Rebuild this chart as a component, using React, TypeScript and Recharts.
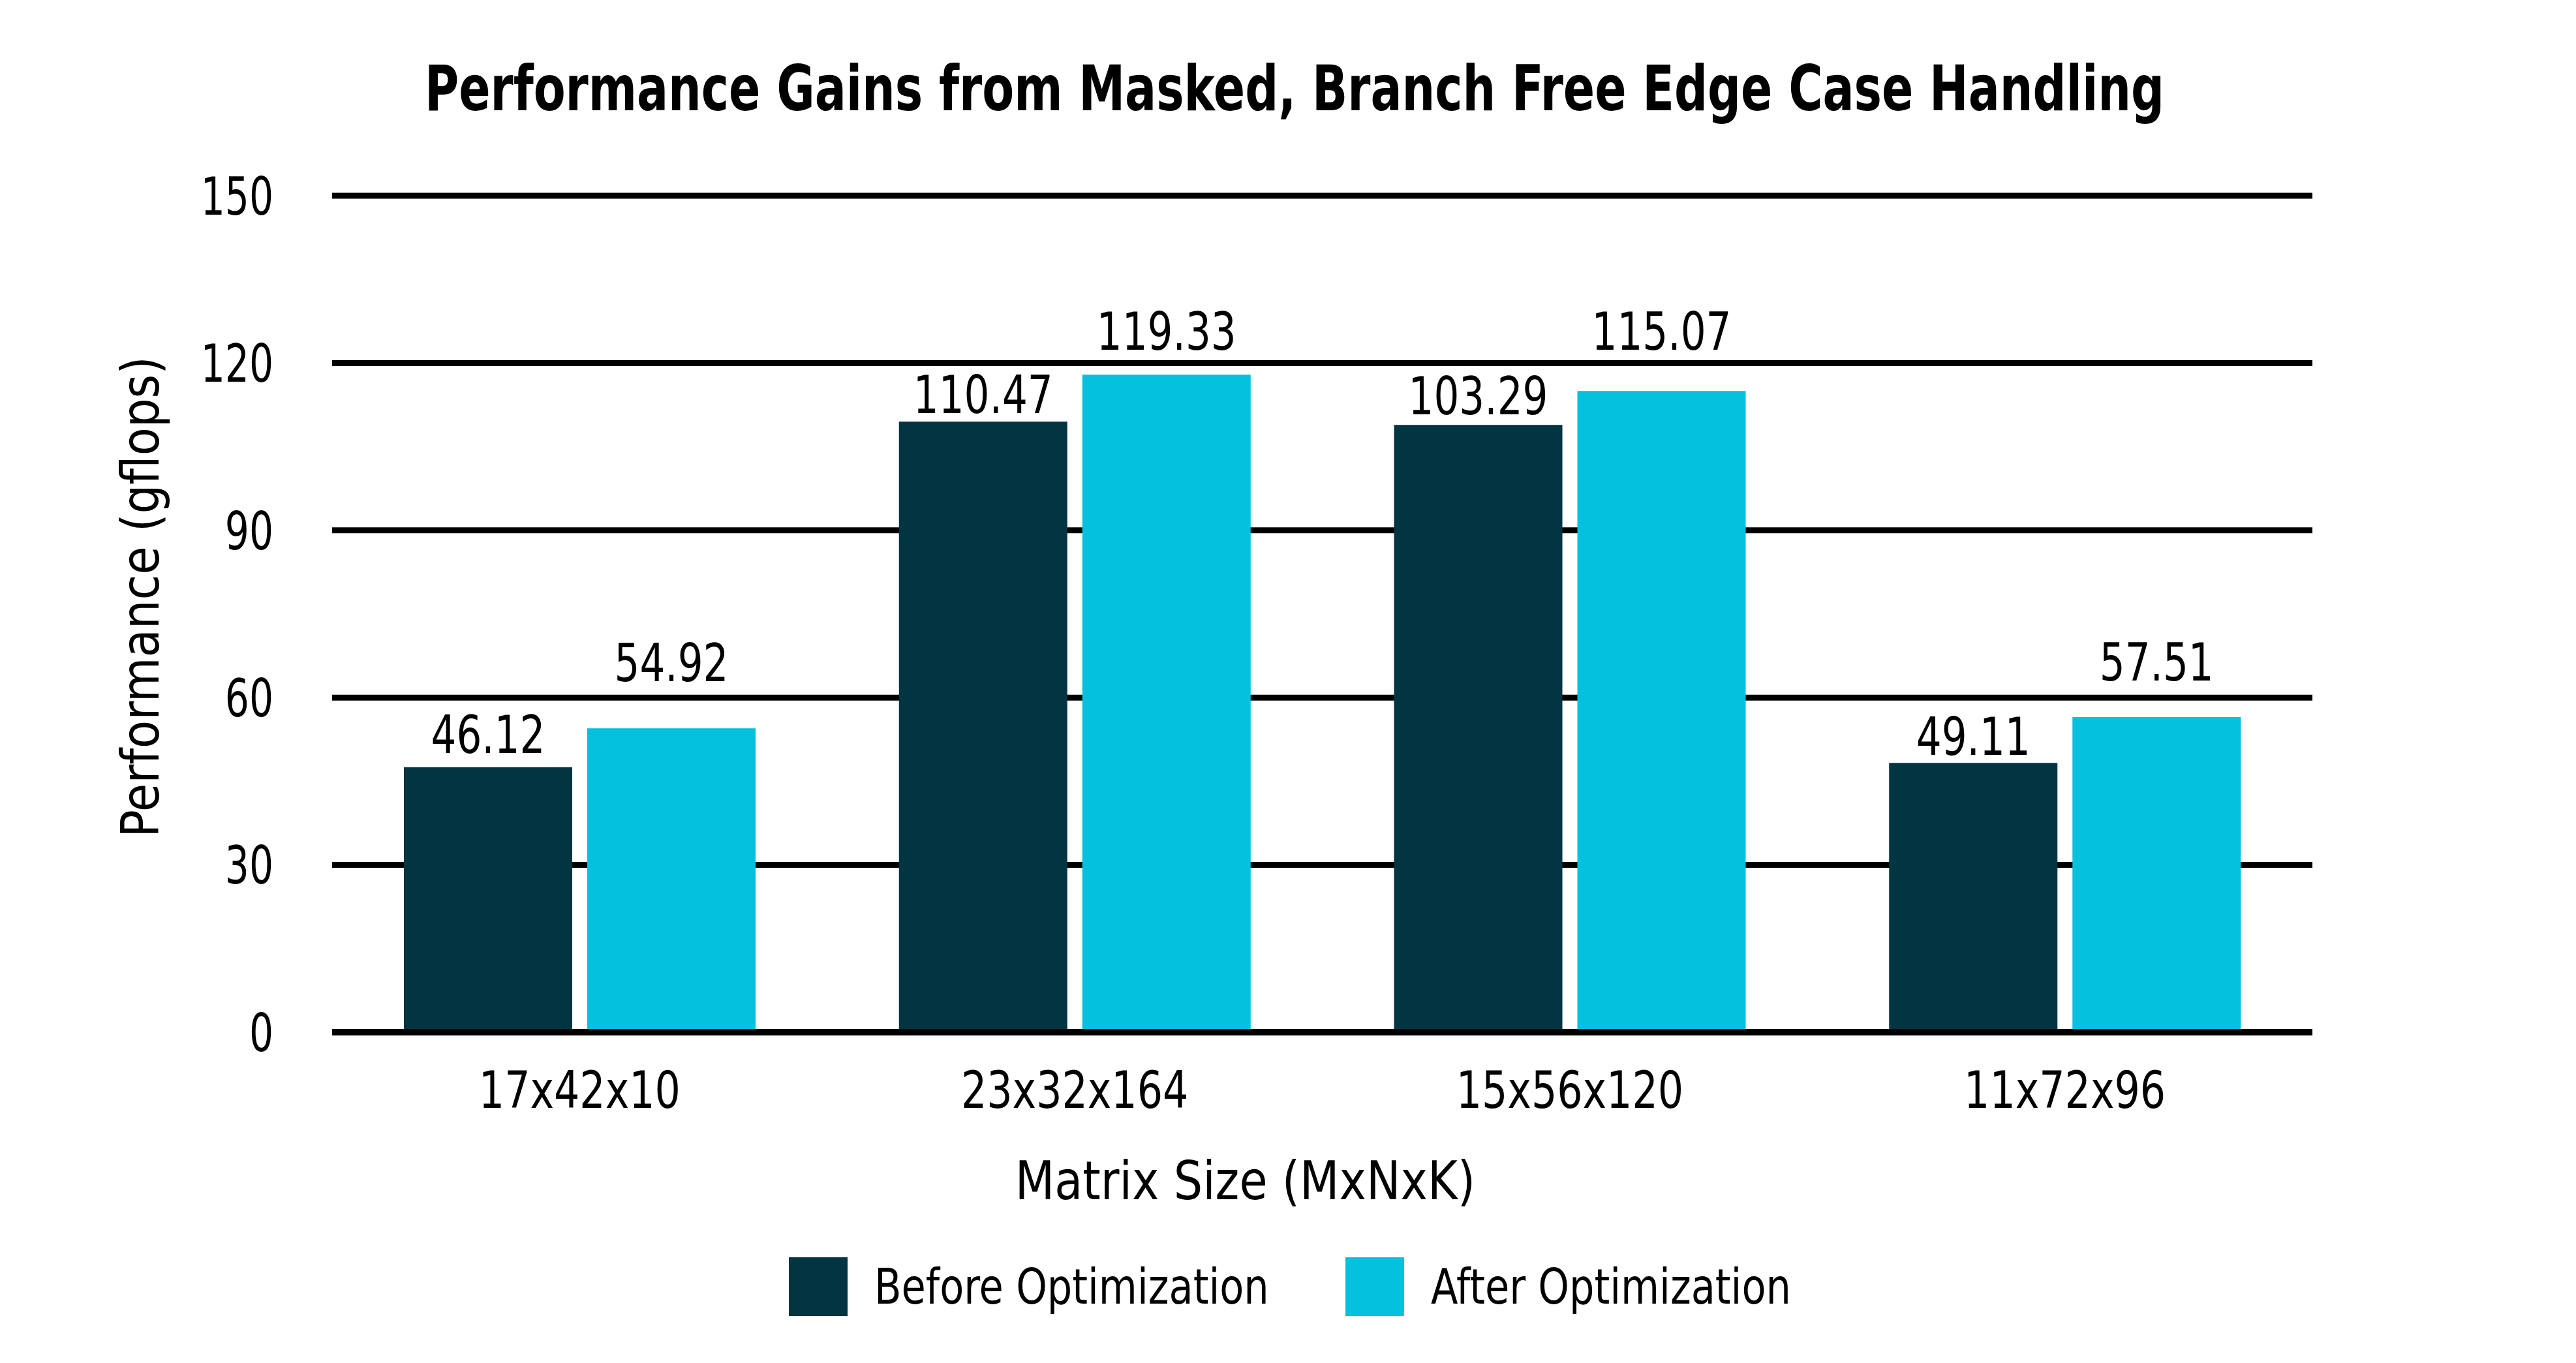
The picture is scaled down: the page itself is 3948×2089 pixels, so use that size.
import { Bar, BarChart, CartesianGrid, LabelList, Legend, ReferenceLine, XAxis, YAxis } from 'recharts';

const FONT = "'DejaVu Sans Condensed', 'Liberation Sans', sans-serif";

const sizes = ['17x42x10', '23x32x164', '15x56x120', '11x72x96'];
const seriesNames = ['Before Optimization', 'After Optimization'];
const before = [47.5, 109.5, 108.9, 48.3];
const after = [54.5, 117.9, 115.0, 56.5];
const beforeLabels = ['46.12', '110.47', '103.29', '49.11'];
const afterLabels = ['54.92', '119.33', '115.07', '57.51'];
// height (gflops) at which each printed number sits in the original
const beforeLabelAt = [50.1, 111.0, 110.8, 49.7];
const afterLabelAt = [62.9, 122.4, 122.4, 63.1];
const yTicks = [0, 30, 60, 90, 120, 150];

const data = sizes.map((size, i) => ({ size, before: before[i], after: after[i] }));

// text squeezed horizontally, the original uses a condensed face
function Squeezed({ x, y, sx, size, anchor, dy, rotate, children }: any) {
  const rot = rotate ? ` rotate(${rotate})` : '';
  return (
    <text
      transform={`translate(${x} ${y})${rot} scale(${sx} 1)`}
      textAnchor={anchor}
      dy={dy}
      fontSize={size}
      fill="#000"
      fontFamily={FONT}
    >
      {children}
    </text>
  );
}

function valueLabel(values: number[], texts: string[], at: number[]) {
  return (props: any) => {
    const x = Number(props.x);
    const y = Number(props.y);
    const width = Number(props.width);
    const height = Number(props.height);
    const value = Number(props.value);
    const i = typeof props.index === 'number' ? props.index : values.indexOf(value);
    const top = y + height - (at[i] / value) * height;
    return (
      <Squeezed x={x + width / 2} y={top} sx={0.85} size={80} anchor="middle">
        {texts[i]}
      </Squeezed>
    );
  };
}

function yTick(props: any) {
  return (
    <Squeezed x={props.x} y={props.y} sx={0.81} size={80} anchor="end" dy="0.36em">
      {props.payload.value}
    </Squeezed>
  );
}

function xTick(props: any) {
  return (
    <Squeezed x={props.x} y={props.y} sx={0.87} size={79} anchor="middle" dy="0.74em">
      {props.payload.value}
    </Squeezed>
  );
}

function yTitle(props: any) {
  const { x, y, height } = props.viewBox;
  return (
    <Squeezed x={x + 243} y={y + height / 2 - 26} sx={0.98} size={80} anchor="middle" rotate={-90}>
      Performance (gflops)
    </Squeezed>
  );
}

function xTitle(props: any) {
  const { x, y, width } = props.viewBox;
  return (
    <Squeezed x={x + width / 2 - 118} y={y + 256} sx={0.95} size={82} anchor="middle">
      Matrix Size (MxNxK)
    </Squeezed>
  );
}

function renderLegend(props: any) {
  const items = [...(props.payload || [])].sort(
    (a: any, b: any) => seriesNames.indexOf(a.value) - seriesNames.indexOf(b.value),
  );
  return (
    <div style={{ display: 'flex', justifyContent: 'center', gap: 117, fontFamily: FONT, fontSize: 74 }}>
      {items.map((entry: any) => (
        <div key={entry.value} style={{ display: 'flex', alignItems: 'center', gap: 41 }}>
          <div style={{ width: 90, height: 90, background: entry.color }} />
          <span
            style={{
              color: '#000',
              lineHeight: 1,
              display: 'inline-block',
              transform: 'scaleX(0.91)',
              transformOrigin: 'left center',
              marginRight: -60,
            }}
          >
            {entry.value}
          </span>
        </div>
      ))}
    </div>
  );
}

export default function App() {
  return (
    <div style={{ position: 'absolute', left: 0, top: 0, width: 3948, height: 2089, background: '#fff' }}>
      <div
        style={{
          position: 'absolute',
          top: 88,
          left: 0,
          width: 3968,
          textAlign: 'center',
          fontFamily: FONT,
          fontWeight: 'bold',
          fontSize: 96,
          lineHeight: 1,
          color: '#000',
          transform: 'scaleX(0.825)',
          transformOrigin: 'center',
          zIndex: 1,
        }}
      >
        Performance Gains from Masked, Branch Free Edge Case Handling
      </div>
      <BarChart
        width={3948}
        height={2089}
        data={data}
        margin={{ top: 300, right: 404, bottom: 0, left: 0 }}
        barSize={258}
        barGap={23}
      >
        <CartesianGrid vertical={false} stroke="#000" strokeWidth={9} />
        <XAxis
          dataKey="size"
          interval={0}
          axisLine={false}
          tickLine={false}
          tickSize={0}
          tickMargin={58}
          height={507}
          tick={xTick}
          label={{ content: xTitle }}
        />
        <YAxis
          domain={[0, 150]}
          ticks={yTicks}
          width={509}
          axisLine={false}
          tickLine={false}
          tickSize={0}
          tickMargin={90}
          tick={yTick}
          label={{ content: yTitle }}
        />
        <Bar dataKey="before" name={seriesNames[0]} fill="#023442" isAnimationActive={false}>
          <LabelList dataKey="before" content={valueLabel(before, beforeLabels, beforeLabelAt)} />
        </Bar>
        <Bar dataKey="after" name={seriesNames[1]} fill="#04C1DE" isAnimationActive={false}>
          <LabelList dataKey="after" content={valueLabel(after, afterLabels, afterLabelAt)} />
        </Bar>
        <ReferenceLine y={0} stroke="#000" strokeWidth={10} />
        <Legend
          layout="horizontal"
          verticalAlign="middle"
          align="center"
          content={renderLegend}
          wrapperStyle={{ top: 1927, left: 0, width: 3948 }}
        />
      </BarChart>
    </div>
  );
}
